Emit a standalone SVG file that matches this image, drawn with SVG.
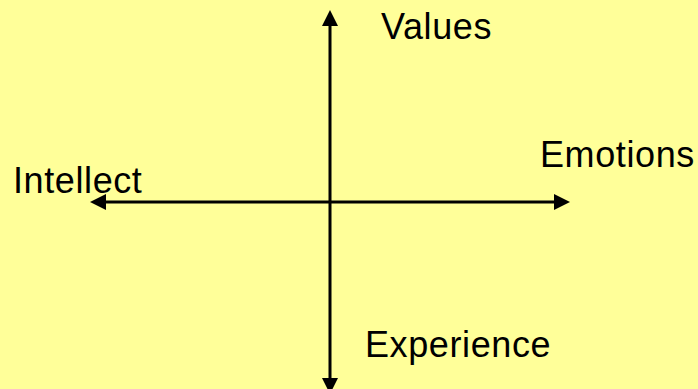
<svg xmlns="http://www.w3.org/2000/svg" width="698" height="389" viewBox="0 0 698 389">
  <style>
    .lbl { font-family: "Liberation Sans", Arial, sans-serif; font-size: 36px; letter-spacing: 0.6px; fill: #000000; }
    .axis { stroke: #000000; stroke-width: 3; fill: none; }
  </style>
  <defs>
    <marker id="arrow" viewBox="0 0 16 16" refX="2" refY="8" markerWidth="16" markerHeight="16" markerUnits="userSpaceOnUse" orient="auto-start-reverse">
      <path d="M0,0 L16,8 L0,16 z" fill="#000000"/>
    </marker>
  </defs>
  <rect x="0" y="0" width="698" height="389" fill="#FFFF99"/>
  <g id="connectors">
    <line class="axis" x1="330" y1="380" x2="330" y2="24" marker-start="url(#arrow)" marker-end="url(#arrow)"/>
    <line class="axis" x1="104" y1="202" x2="556" y2="202" marker-start="url(#arrow)" marker-end="url(#arrow)"/>
  </g>
  <g id="values"><text class="lbl" x="381" y="39">Values</text></g>
  <g id="emotions"><text class="lbl" x="540" y="167">Emotions</text></g>
  <g id="intellect"><text class="lbl" x="13" y="193">Intellect</text></g>
  <g id="experience"><text class="lbl" x="365" y="357">Experience</text></g>
</svg>
